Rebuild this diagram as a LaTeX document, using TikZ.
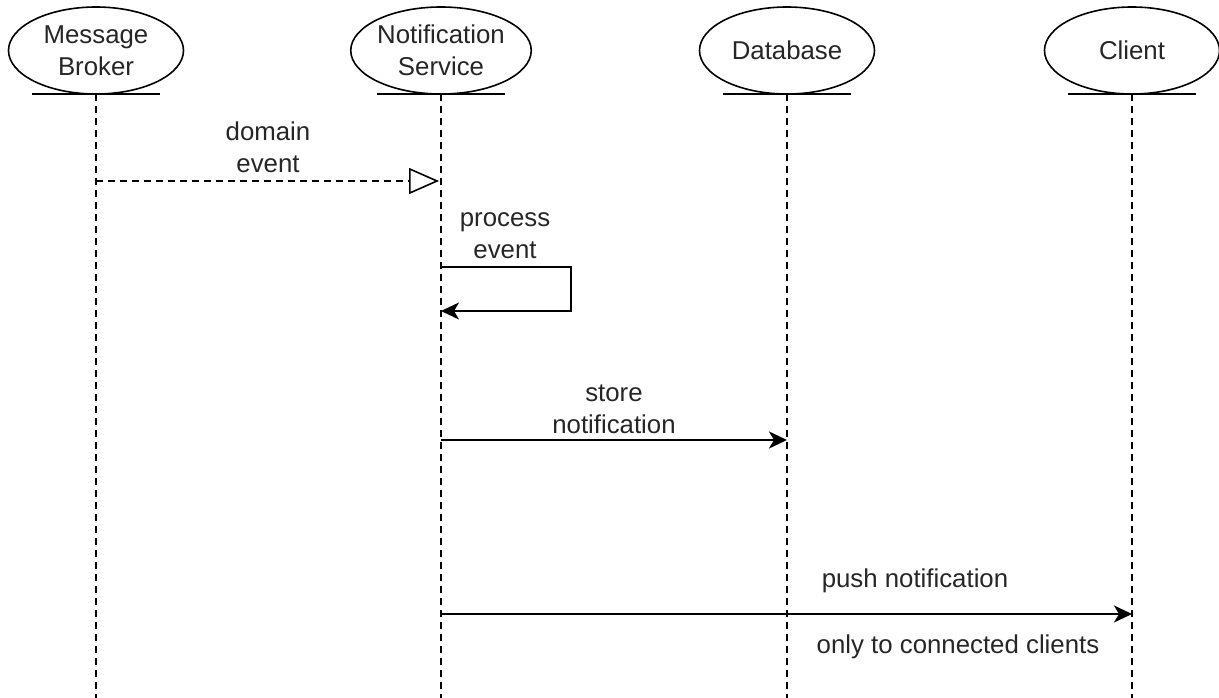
\documentclass[tikz,border=0pt]{standalone}
\usepackage{fontspec}
\setmainfont{Liberation Sans}
\usetikzlibrary{shapes.geometric,arrows.meta}

\tikzset{
  x=1pt, y=-1pt,
  every node/.style={font=\fontsize{25.8}{32}\selectfont, text=black!85},
  head/.style={ellipse, draw, line width=1.6pt, minimum width=175pt,
               minimum height=87pt, inner sep=0pt, align=center, fill=white},
  baseline/.style={line width=2pt},
  lifeline/.style={line width=1.6pt, dash pattern=on 7pt off 5pt},
  async/.style={line width=1.6pt, dash pattern=on 7pt off 5pt,
                -{Triangle[open,length=30pt,width=26pt,fill=white]}},
  sync/.style={line width=2pt, -{Stealth[length=18pt,width=17pt,inset=5pt]}},
  lbl/.style={align=center, inner sep=0pt}
}

\begin{document}
\begin{tikzpicture}
  \useasboundingbox (0,0) rectangle (1219,698);

  % participants
  \foreach \name/\cx/\txt in {mb/96/{Message\\Broker},
                              ns/441/{Notification\\Service},
                              db/787/{Database},
                              cl/1132/{Client}} {
    \node[head] (\name) at (\cx,50.5) {\txt};
    \coordinate (\name top) at (\cx,94);
    \coordinate (\name end) at (\cx,698);
    \draw[baseline] (\cx-64,94) -- (\cx+64,94);
    \draw[lifeline] (\name top) -- (\name end);
  }

  % message anchors on the lifelines
  \coordinate (evFrom) at (96,181);
  \coordinate (evTo)   at (439,181);
  \coordinate (prA)    at (441,267);
  \coordinate (prB)    at (571,267);
  \coordinate (prC)    at (571,311);
  \coordinate (prD)    at (441,311);
  \coordinate (stFrom) at (441,440);
  \coordinate (stTo)   at (787,440);
  \coordinate (puFrom) at (441,614);
  \coordinate (puTo)   at (1132,614);

  % domain event (asynchronous); labels are placed by their last baseline
  \draw[async] (evFrom) -- (evTo);
  \node[lbl, anchor=base] (evLbl) at (268,172) {domain\\event};

  % process event (self call)
  \draw[sync] (prA) -- (prB) -- (prC) -- (prD);
  \node[lbl, anchor=base] (prLbl) at (505,258) {process\\event};

  % store notification
  \draw[sync] (stFrom) -- (stTo);
  \node[lbl, anchor=base] (stLbl) at (614,433) {store\\notification};

  % push notification
  \draw[sync] (puFrom) -- (puTo);
  \node[lbl, anchor=base] (puLbl) at (915,587) {push notification};
  \node[lbl, anchor=base] (puNote) at (958,653) {only to connected clients};
\end{tikzpicture}
\end{document}
